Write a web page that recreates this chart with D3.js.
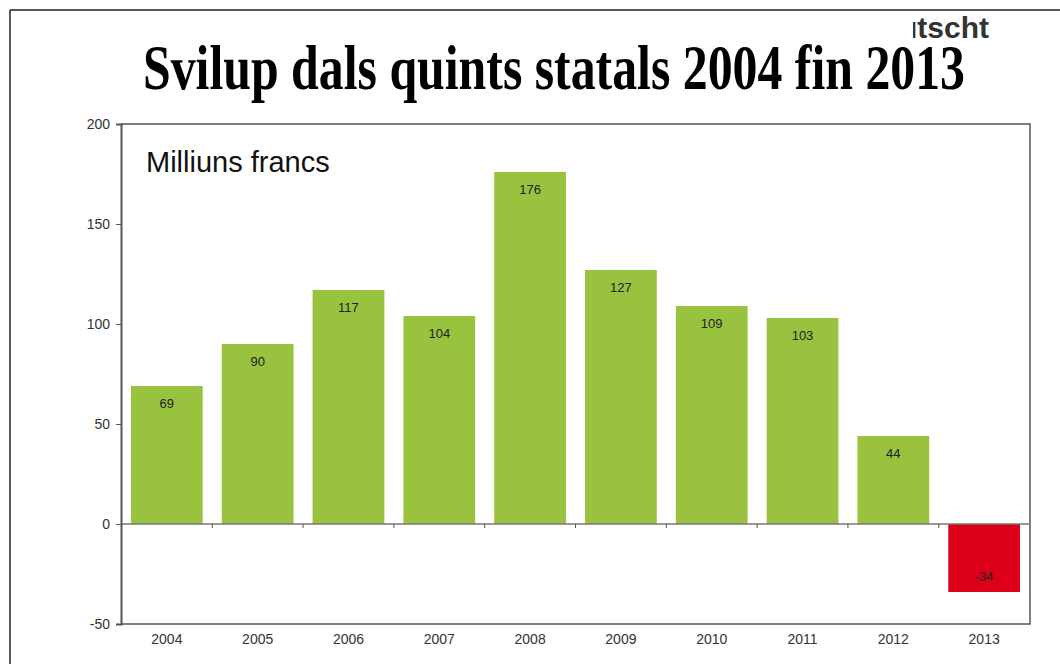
<!DOCTYPE html>
<html>
<head>
<meta charset="utf-8">
<script src="https://cdn.jsdelivr.net/npm/d3@7"></script>
<style>
  html, body { margin: 0; padding: 0; background: #fff; }
  svg { display: block; }
</style>
</head>
<body>
<div id="chart"></div>
<script>
    const years = ["2004", "2005", "2006", "2007", "2008", "2009", "2010", "2011", "2012", "2013"];
    const values = [69, 90, 117, 104, 176, 127, 109, 103, 44, -34];
    const yTicks = [-50, 0, 50, 100, 150, 200];

    const W = 1060, H = 664;
    const margin = {top: 124, right: 30, bottom: 40, left: 121};

    const svg = d3.select("#chart").append("svg")
        .attr("width", W)
        .attr("height", H);

    // outer frame (top and left only visible)
    svg.append("line").attr("x1", 10).attr("y1", 10).attr("x2", W).attr("y2", 10)
        .attr("stroke", "#222").attr("stroke-width", 1.5);
    svg.append("line").attr("x1", 10).attr("y1", 10).attr("x2", 10).attr("y2", H)
        .attr("stroke", "#222").attr("stroke-width", 1.5);

    // cut-off text at top right
    svg.append("clipPath").attr("id", "cut")
        .append("rect").attr("x", 913).attr("y", 11).attr("width", 147).attr("height", 40);
    svg.append("text")
        .attr("clip-path", "url(#cut)")
        .attr("x", 899).attr("y", 38)
        .attr("font-family", "Liberation Sans, Arial, sans-serif")
        .attr("font-weight", "bold")
        .attr("font-size", 30)
        .attr("fill", "#333")
        .text("utscht");

    svg.append("text")
        .attr("x", 143).attr("y", 89)
        .attr("font-family", "Liberation Serif, Times New Roman, serif")
        .attr("font-weight", "bold")
        .attr("font-size", 64)
        .attr("textLength", 822)
        .attr("lengthAdjust", "spacingAndGlyphs")
        .attr("fill", "#000")
        .text("Svilup dals quints statals 2004 fin 2013");

    const width = W - margin.left - margin.right;
    const height = H - margin.top - margin.bottom;

    const x = d3.scaleBand().domain(years).range([0, width]).paddingInner(0.21).paddingOuter(0.11);
    const y = d3.scaleLinear().domain([-50, 200]).range([height, 0]);

    const g = svg.append("g")
        .attr("transform", "translate(" + margin.left + "," + margin.top + ")");

    // bars
    g.selectAll("rect.bar")
        .data(values)
        .enter().append("rect")
        .attr("class", "bar")
        .attr("x", (d, i) => x(years[i]))
        .attr("width", x.bandwidth())
        .attr("y", d => y(Math.max(d, 0)))
        .attr("height", d => Math.abs(y(d) - y(0)))
        .attr("fill", d => d < 0 ? "#dc0019" : "#99c33f");

    // value labels
    g.selectAll("text.val")
        .data(values)
        .enter().append("text")
        .attr("class", "val")
        .attr("x", (d, i) => x(years[i]) + x.bandwidth() / 2)
        .attr("y", d => d < 0 ? y(d) - 11 : y(d) + 22)
        .attr("text-anchor", "middle")
        .attr("font-family", "Liberation Sans, Arial, sans-serif")
        .attr("font-size", 13)
        .attr("fill", "#222")
        .text(d => String(d));

    // plot frame top/right/bottom
    g.append("path")
        .attr("d", "M0,0H" + width + "V" + height + "H0")
        .attr("fill", "none")
        .attr("stroke", "#555")
        .attr("stroke-width", 1.5);

    // zero line with category ticks
    g.append("line")
        .attr("x1", 0).attr("x2", width)
        .attr("y1", y(0)).attr("y2", y(0))
        .attr("stroke", "#777").attr("stroke-width", 1.5);

    const step = x.step();
    const bounds = d3.range(1, years.length).map(i => x(years[i]) - step * x.paddingInner() / 2);
    g.selectAll("line.ztick")
        .data(bounds)
        .enter().append("line")
        .attr("class", "ztick")
        .attr("x1", d => d).attr("x2", d => d)
        .attr("y1", y(0)).attr("y2", y(0) + 4)
        .attr("stroke", "#555").attr("stroke-width", 1);

    // y axis
    const yAxis = g.append("g")
        .call(d3.axisLeft(y).tickValues(yTicks).tickFormat(d => String(d)).tickSize(5).tickPadding(6));
    yAxis.select(".domain").attr("stroke", "#555").attr("stroke-width", 2);
    yAxis.selectAll(".tick line").attr("stroke", "#555");
    yAxis.selectAll(".tick text")
        .attr("font-family", "Liberation Sans, Arial, sans-serif")
        .attr("font-size", 14)
        .attr("fill", "#333");

    // x axis labels
    const xAxis = g.append("g")
        .attr("transform", "translate(0," + height + ")")
        .call(d3.axisBottom(x).tickSize(0).tickPadding(10));
    xAxis.select(".domain").remove();
    xAxis.selectAll(".tick text")
        .attr("font-family", "Liberation Sans, Arial, sans-serif")
        .attr("font-size", 14)
        .attr("fill", "#333");

    g.append("text")
        .attr("x", 25).attr("y", 48)
        .attr("font-family", "Liberation Sans, Arial, sans-serif")
        .attr("font-size", 29)
        .attr("fill", "#111")
        .text("Milliuns francs");
</script>
</body>
</html>
